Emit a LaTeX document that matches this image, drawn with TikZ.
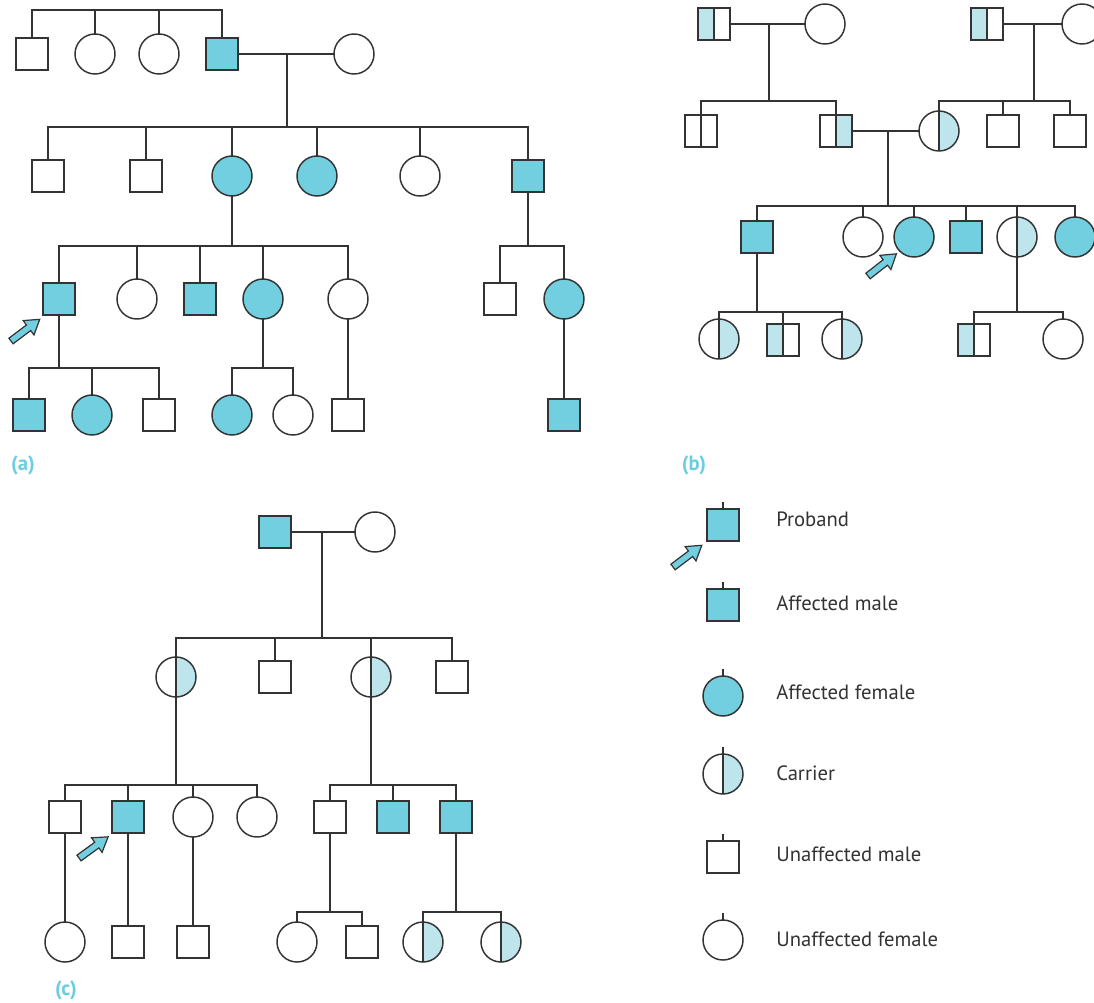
\documentclass[tikz,border=0pt]{standalone}
\usepackage{fontspec}
\setmainfont{PT Sans}
\usetikzlibrary{calc}
\definecolor{lc}{HTML}{333333}
\definecolor{aff}{HTML}{72CFE0}
\definecolor{carr}{HTML}{BEE4EC}
\definecolor{labc}{HTML}{6DCDE0}
\tikzset{
 ind/.style={draw=lc, line width=1.1pt, inner sep=0pt, outer sep=0pt},
 sq/.style={ind, rectangle, minimum size=24pt, fill=white},
 ci/.style={ind, circle, minimum size=30pt, fill=white},
 afsq/.style={sq, fill=aff},
 afci/.style={ci, fill=aff},
 midline/.style={draw=lc, line width=1.1pt},
 cci/.style={ci, path picture={\fill[carr] (path picture bounding box.north) rectangle (path picture bounding box.south east); \draw[midline] (path picture bounding box.north) -- (path picture bounding box.south);}},
 cmL/.style={sq, path picture={\fill[carr] (path picture bounding box.north west) rectangle (path picture bounding box.south); \draw[midline] (path picture bounding box.north) -- (path picture bounding box.south);}},
 cmR/.style={sq, path picture={\fill[carr] (path picture bounding box.north) rectangle (path picture bounding box.south east); \draw[midline] (path picture bounding box.north) -- (path picture bounding box.south);}},
 splitsq/.style={sq, path picture={\draw[midline] (path picture bounding box.north) -- (path picture bounding box.south);}},
 link/.style={draw=lc, line width=1.1pt},
 arrowsty/.style={draw=lc, fill=aff, line width=0.9pt, line join=miter},
 lab/.style={text=labc, font=\bfseries\fontsize{15.5}{17}\selectfont, inner sep=0pt},
 leg/.style={text=lc, font=\fontsize{15.5}{18}\selectfont, inner sep=0pt, anchor=west},
}
\newcommand{\pbarrow}[3]{\draw[arrowsty, shift={(#1,#2)}, rotate=#3] (0,-3.5) -- (22,-3.5) -- (22,-9) -- (36,0) -- (22,9) -- (22,3.5) -- (0,3.5) -- cycle;}
\begin{document}
\begin{tikzpicture}[x=0.75pt,y=-0.75pt]
\clip (0,0) rectangle (1094,1002);
\fill[white] (0,0) rectangle (1094,1002);
% ================= (a) =================
\node[sq] (a1) at (32,54) {};
\node[ci] (a2) at (95,54) {};
\node[ci] (a3) at (159,54) {};
\node[afsq] (a4) at (222,54) {};
\node[ci] (a5) at (354,54) {};
\coordinate (sa1) at (0,10);
\draw[link] (a1.north) -- (a1.north |- sa1) -- (a4.north |- sa1) -- (a4.north);
\draw[link] (a2.north) -- (a2.north |- sa1);
\draw[link] (a3.north) -- (a3.north |- sa1);
\draw[link] (a4.east) -- (a5.west);
\coordinate (ma1) at (287,54);
\node[sq] (b1) at (48,176) {};
\node[sq] (b2) at (146,176) {};
\node[afci] (b3) at (232,176) {};
\node[afci] (b4) at (317,176) {};
\node[ci] (b5) at (420,176) {};
\node[afsq] (b6) at (528,176) {};
\coordinate (sa2) at (0,127);
\draw[link] (ma1) -- (ma1 |- sa2);
\draw[link] (b1.north) -- (b1.north |- sa2) -- (b6.north |- sa2) -- (b6.north);
\foreach \n in {b2,b3,b4,b5} \draw[link] (\n.north) -- (\n.north |- sa2);
\node[afsq] (c1) at (59,299) {};
\node[ci] (c2) at (137,299) {};
\node[afsq] (c3) at (200,299) {};
\node[afci] (c4) at (263,299) {};
\node[ci] (c5) at (348,299) {};
\node[sq] (c6) at (500,299) {};
\node[afci] (c7) at (564,299) {};
\coordinate (sa3) at (0,246);
\draw[link] (b3.south) -- (b3.south |- sa3);
\draw[link] (c1.north) -- (c1.north |- sa3) -- (c5.north |- sa3) -- (c5.north);
\foreach \n in {c2,c3,c4} \draw[link] (\n.north) -- (\n.north |- sa3);
\draw[link] (b6.south) -- (b6.south |- sa3);
\draw[link] (c6.north) -- (c6.north |- sa3) -- (c7.north |- sa3) -- (c7.north);
\node[afsq] (d1) at (29,415) {};
\node[afci] (d2) at (92,415) {};
\node[sq] (d3) at (159,415) {};
\node[afci] (d4) at (232,415) {};
\node[ci] (d5) at (293,415) {};
\node[sq] (d6) at (348,415) {};
\node[afsq] (d7) at (564,415) {};
\coordinate (sa4) at (0,368);
\draw[link] (c1.south) -- (c1.south |- sa4);
\draw[link] (d1.north) -- (d1.north |- sa4) -- (d3.north |- sa4) -- (d3.north);
\draw[link] (d2.north) -- (d2.north |- sa4);
\draw[link] (c4.south) -- (c4.south |- sa4);
\draw[link] (d4.north) -- (d4.north |- sa4) -- (d5.north |- sa4) -- (d5.north);
\draw[link] (c5.south) -- (d6.north);
\draw[link] (c7.south) -- (d7.north);
\pbarrow{11}{341}{37}
\node[lab] (la) at (23,465) {(a)};
% ================= (b) =================
\node[cmL] (e1) at (714,24) {};
\node[ci] (e2) at (825,24) {};
\node[cmL] (e3) at (987,24) {};
\node[ci] (e4) at (1082,24) {};
\draw[link] (e1.east) -- (e2.west);
\draw[link] (e3.east) -- (e4.west);
\coordinate (mb1) at (769,24);
\coordinate (mb2) at (1034,24);
\node[splitsq] (f1) at (701,131) {};
\node[cmR] (f2) at (836,131) {};
\node[cci] (f3) at (939,131) {};
\node[sq] (f4) at (1003,131) {};
\node[sq] (f5) at (1070,131) {};
\coordinate (sb1) at (0,101);
\draw[link] (mb1) -- (mb1 |- sb1);
\draw[link] (f1.north) -- (f1.north |- sb1) -- (f2.north |- sb1) -- (f2.north);
\draw[link] (mb2) -- (mb2 |- sb1);
\draw[link] (f3.north) -- (f3.north |- sb1) -- (f5.north |- sb1) -- (f5.north);
\draw[link] (f4.north) -- (f4.north |- sb1);
\draw[link] (f2.east) -- (f3.west);
\coordinate (mb3) at (888,131);
\node[afsq] (g1) at (757,237) {};
\node[ci] (g2) at (863,237) {};
\node[afci] (g3) at (914,237) {};
\node[afsq] (g4) at (966,237) {};
\node[cci] (g5) at (1017,237) {};
\node[afci] (g6) at (1075,237) {};
\coordinate (sb2) at (0,206);
\draw[link] (mb3) -- (mb3 |- sb2);
\draw[link] (g1.north) -- (g1.north |- sb2) -- (g6.north |- sb2) -- (g6.north);
\foreach \n in {g2,g3,g4,g5} \draw[link] (\n.north) -- (\n.north |- sb2);
\node[cci] (h1) at (719,339) {};
\node[cmL] (h2) at (783,340) {};
\node[cci] (h3) at (842,339) {};
\node[cmL] (h4) at (974,340) {};
\node[ci] (h5) at (1063,339) {};
\coordinate (sb3) at (0,312);
\draw[link] (g1.south) -- (g1.south |- sb3);
\draw[link] (h1.north) -- (h1.north |- sb3) -- (h3.north |- sb3) -- (h3.north);
\draw[link] (h2.north) -- (h2.north |- sb3);
\draw[link] (g5.south) -- (g5.south |- sb3);
\draw[link] (h4.north) -- (h4.north |- sb3) -- (h5.north |- sb3) -- (h5.north);
\pbarrow{868}{276}{38}
\node[lab] (lb) at (694,465) {(b)};
% ================= (c) =================
\node[afsq] (k1) at (275,532) {};
\node[ci] (k2) at (375,532) {};
\draw[link] (k1.east) -- (k2.west);
\coordinate (mc1) at (322,532);
\node[cci] (l1) at (176,677) {};
\node[sq] (l2) at (275,677) {};
\node[cci] (l3) at (371,677) {};
\node[sq] (l4) at (452,677) {};
\coordinate (sc1) at (0,638);
\draw[link] (mc1) -- (mc1 |- sc1);
\draw[link] (l1.north) -- (l1.north |- sc1) -- (l4.north |- sc1) -- (l4.north);
\foreach \n in {l2,l3} \draw[link] (\n.north) -- (\n.north |- sc1);
\node[sq] (m1) at (65,817) {};
\node[afsq] (m2) at (128,817) {};
\node[ci] (m3) at (193,817) {};
\node[ci] (m4) at (257,817) {};
\node[sq] (m5) at (330,817) {};
\node[afsq] (m6) at (393,817) {};
\node[afsq] (m7) at (456,817) {};
\coordinate (sc2) at (0,785);
\draw[link] (l1.south) -- (l1.south |- sc2);
\draw[link] (m1.north) -- (m1.north |- sc2) -- (m4.north |- sc2) -- (m4.north);
\foreach \n in {m2,m3} \draw[link] (\n.north) -- (\n.north |- sc2);
\draw[link] (l3.south) -- (l3.south |- sc2);
\draw[link] (m5.north) -- (m5.north |- sc2) -- (m7.north |- sc2) -- (m7.north);
\draw[link] (m6.north) -- (m6.north |- sc2);
\node[ci] (n1) at (65,942) {};
\node[sq] (n2) at (128,942) {};
\node[sq] (n3) at (193,942) {};
\node[ci] (n4) at (297,942) {};
\node[sq] (n5) at (362,942) {};
\node[cci] (n6) at (423,942) {};
\node[cci] (n7) at (501,942) {};
\draw[link] (m1.south) -- (n1.north);
\draw[link] (m2.south) -- (n2.north);
\draw[link] (m3.south) -- (n3.north);
\coordinate (sc3) at (0,912);
\draw[link] (m5.south) -- (m5.south |- sc3);
\draw[link] (n4.north) -- (n4.north |- sc3) -- (n5.north |- sc3) -- (n5.north);
\draw[link] (m7.south) -- (m7.south |- sc3);
\draw[link] (n6.north) -- (n6.north |- sc3) -- (n7.north |- sc3) -- (n7.north);
\pbarrow{79}{858}{36}
\node[lab] (lc) at (66,990) {(c)};
% ================= legend =================
\node[afsq] (p1) at (723,525) {};
\node[afsq] (p2) at (723,605) {};
\node[afci] (p3) at (723,696) {};
\node[cci] (p4) at (723,774) {};
\node[sq] (p5) at (723,857) {};
\node[ci] (p6) at (723,940) {};
\foreach \n in {p1,p2,p3,p4,p5,p6} \draw[link] (\n.north) -- ++(0,-7);
\pbarrow{673}{567}{37}
\node[leg] (t1) at (776,519) {Proband};
\node[leg] (t2) at (776,603) {Affected male};
\node[leg] (t3) at (776,692) {Affected female};
\node[leg] (t4) at (776,773) {Carrier};
\node[leg] (t5) at (776,854) {Unaffected male};
\node[leg] (t6) at (776,939) {Unaffected female};
\end{tikzpicture}
\end{document}
